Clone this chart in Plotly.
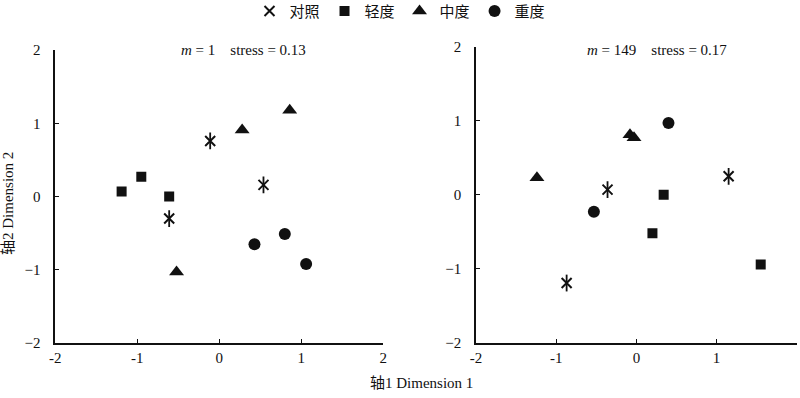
import plotly.graph_objects as go

# ---- data ----
groups = ["对照", "轻度", "中度", "重度"]

# left panel (m = 1)
m1_ctrl_x = [-0.11, 0.54, -0.61]
m1_ctrl_y = [0.76, 0.16, -0.30]
m1_light_x = [-1.19, -0.95, -0.61]
m1_light_y = [0.07, 0.27, 0.00]
m1_mid_x = [0.28, 0.86, -0.52]
m1_mid_y = [0.91, 1.18, -1.03]
m1_sev_x = [0.43, 0.80, 1.06]
m1_sev_y = [-0.65, -0.51, -0.92]

# right panel (m = 149)
m149_ctrl_x = [-0.36, 1.15, -0.87]
m149_ctrl_y = [0.07, 0.25, -1.19]
m149_light_x = [0.34, 0.20, 1.55]
m149_light_y = [0.00, -0.52, -0.94]
m149_mid_x = [-1.24, -0.08, -0.03]
m149_mid_y = [0.23, 0.81, 0.77]
m149_sev_x = [0.40, -0.53]
m149_sev_y = [0.97, -0.23]

tick_vals = [-2, -1, 0, 1, 2]
x_tick_text = ["-2", "-1", "0", "1", "2"]
y_tick_text = ["\u22122", "\u22121", "0", "1", "2"]

panel_labels = ["<i>m</i> = 1\u00a0\u00a0\u00a0\u00a0stress = 0.13",
                "<i>m</i> = 149\u00a0\u00a0\u00a0\u00a0stress = 0.17"]
x_title = "轴1 Dimension 1"
y_title = "轴2 Dimension 2"

FONT = "Liberation Serif, Times New Roman, Noto Sans CJK SC, serif"
BLACK = "#111111"

fig = go.Figure()

panels = [
    ("x", "y", m1_ctrl_x, m1_ctrl_y, m1_light_x, m1_light_y, m1_mid_x, m1_mid_y, m1_sev_x, m1_sev_y, True),
    ("x2", "y2", m149_ctrl_x, m149_ctrl_y, m149_light_x, m149_light_y, m149_mid_x, m149_mid_y, m149_sev_x, m149_sev_y, False),
]

for xa, ya, cx, cy, lx, ly, mx, my, sx, sy, show in panels:
    fig.add_trace(go.Scatter(x=cx, y=cy, xaxis=xa, yaxis=ya, mode="markers", name=groups[0],
                             legendgroup="g0", showlegend=show,
                             marker=dict(symbol="x-thin-open", size=10, color=BLACK,
                                         line=dict(width=2, color=BLACK))))
    fig.add_trace(go.Scatter(x=cx, y=cy, xaxis=xa, yaxis=ya, mode="markers", name=groups[0],
                             legendgroup="g0", showlegend=False,
                             marker=dict(symbol="line-ns-open", size=12, color=BLACK,
                                         line=dict(width=1.8, color=BLACK))))
    fig.add_trace(go.Scatter(x=lx, y=ly, xaxis=xa, yaxis=ya, mode="markers", name=groups[1],
                             legendgroup="g1", showlegend=show,
                             marker=dict(symbol="square", size=10, color=BLACK)))
    fig.add_trace(go.Scatter(x=mx, y=my, xaxis=xa, yaxis=ya, mode="markers", name=groups[2],
                             legendgroup="g2", showlegend=show,
                             marker=dict(symbol="triangle-up", size=13, color=BLACK)))
    fig.add_trace(go.Scatter(x=sx, y=sy, xaxis=xa, yaxis=ya, mode="markers", name=groups[3],
                             legendgroup="g3", showlegend=show,
                             marker=dict(symbol="circle", size=12, color=BLACK)))

axis_common = dict(range=[-2, 2], tickvals=tick_vals, showgrid=False, zeroline=False,
                   showline=True, linecolor=BLACK, linewidth=1.6, ticks="inside",
                   ticklen=4, tickwidth=1.2, tickcolor=BLACK, automargin=False,
                   tickfont=dict(family=FONT, size=15, color=BLACK))

fig.update_layout(
    width=800, height=398,
    margin=dict(l=0, r=0, t=0, b=0, autoexpand=False),
    paper_bgcolor="white", plot_bgcolor="white",
    font=dict(family=FONT, size=15, color=BLACK),
    xaxis=dict(domain=[0.069, 0.479], anchor="y", ticktext=x_tick_text, ticklabelstandoff=0, **axis_common),
    yaxis=dict(domain=[0.138, 0.874], anchor="x", ticktext=y_tick_text, ticklabelstandoff=10, **axis_common),
    xaxis2=dict(domain=[0.595, 0.996], anchor="y2", ticktext=x_tick_text, ticklabelstandoff=0, **axis_common),
    yaxis2=dict(domain=[0.138, 0.883], anchor="x2", ticktext=y_tick_text, ticklabelstandoff=10, **axis_common),
    showlegend=True,
    legend=dict(orientation="h", x=0.5, xanchor="center", y=1.013, yanchor="top",
                font=dict(family="Noto Sans CJK SC", size=15, color=BLACK),
                itemwidth=30, bgcolor="rgba(0,0,0,0)"),
    annotations=[
        dict(text=panel_labels[0], x=243 / 800, y=1 - 50 / 398, xref="paper", yref="paper",
             xanchor="center", yanchor="middle",
             showarrow=False, font=dict(family=FONT, size=15, color=BLACK)),
        dict(text=panel_labels[1], x=657 / 800, y=1 - 50 / 398, xref="paper", yref="paper",
             xanchor="center", yanchor="middle",
             showarrow=False, font=dict(family=FONT, size=15, color=BLACK)),
        dict(text=x_title, x=421 / 800, y=1 - 383 / 398, xref="paper", yref="paper",
             xanchor="center", yanchor="middle",
             showarrow=False, font=dict(family=FONT, size=15, color=BLACK)),
        dict(text=y_title, x=8 / 800, y=1 - 204 / 398, xref="paper", yref="paper",
             xanchor="center", yanchor="middle",
             showarrow=False, textangle=-90, font=dict(family=FONT, size=15, color=BLACK)),
    ],
)

fig.write_html("out.html",
               config={"displayModeBar": False},
               post_script="document.body.style.margin='0';document.body.style.overflow='hidden';")
